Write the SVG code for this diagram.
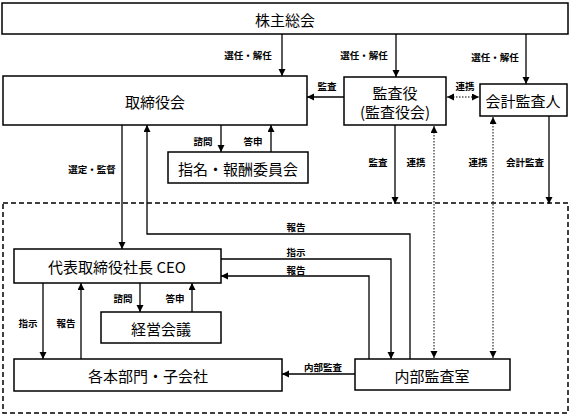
<svg xmlns="http://www.w3.org/2000/svg" width="572" height="416" viewBox="0 0 572 416">
<defs>
<marker id="ah" markerUnits="userSpaceOnUse" markerWidth="8" markerHeight="8" refX="7" refY="3.5" orient="auto-start-reverse">
<path d="M0,0 L7,3.5 L0,7 z" fill="#000"/>
</marker>
<style>
.box{fill:#fff;stroke:#000;stroke-width:1.5}
.t{font-family:"Noto Sans CJK JP","Noto Sans CJK SC",sans-serif;font-size:15px;fill:#000;text-anchor:middle;dominant-baseline:central}
.l{font-family:"Noto Sans CJK JP","Noto Sans CJK SC",sans-serif;font-size:9.5px;font-weight:bold;fill:#000;text-anchor:middle;dominant-baseline:central}
.c{fill:none;stroke:#000;stroke-width:1.3;marker-end:url(#ah)}
.d{fill:none;stroke:#000;stroke-width:1;stroke-dasharray:1.5,1.5;marker-end:url(#ah);marker-start:url(#ah)}
.g{fill:none;stroke:#000;stroke-width:1.5;stroke-dasharray:5,3}
</style>
</defs>
<rect class="g" x="3" y="203" width="565" height="210"/>
<g id="connectors">
<path class="c" d="M282,34 V76"/>
<path class="c" d="M396,34 V77"/>
<path class="c" d="M526,34 V84"/>
<path class="c" d="M344,97 H307"/>
<path class="d" d="M447,97 H479"/>
<path class="c" d="M221,125 V152"/>
<path class="c" d="M271,152 V125"/>
<path class="c" d="M122,125 V249"/>
<path class="c" d="M410,359 V234 H147 V125"/>
<path class="c" d="M221,259 H391 V359"/>
<path class="c" d="M369,359 V276 H221"/>
<path class="c" d="M395,125 V204"/>
<path class="d" d="M434,126 V358"/>
<path class="d" d="M493,117 V358"/>
<path class="c" d="M549,116 V204"/>
<path class="c" d="M140,283 V312"/>
<path class="c" d="M192,312 V283"/>
<path class="c" d="M43,283 V359"/>
<path class="c" d="M81,359 V283"/>
<path class="c" d="M355,374 H282"/>
<text class="l" x="248" y="55">選任・解任</text>
<text class="l" x="364" y="55">選任・解任</text>
<text class="l" x="495" y="57">選任・解任</text>
<text class="l" x="327" y="86">監査</text>
<text class="l" x="465" y="86">連携</text>
<text class="l" x="203" y="141">諮問</text>
<text class="l" x="253" y="141">答申</text>
<text class="l" x="92" y="169">選定・監督</text>
<text class="l" x="378" y="162">監査</text>
<text class="l" x="416" y="162">連携</text>
<text class="l" x="478" y="162">連携</text>
<text class="l" x="525" y="162">会計監査</text>
<text class="l" x="296" y="227">報告</text>
<text class="l" x="296" y="252">指示</text>
<text class="l" x="296" y="270">報告</text>
<text class="l" x="123" y="298">諮問</text>
<text class="l" x="175" y="298">答申</text>
<text class="l" x="28" y="323">指示</text>
<text class="l" x="66" y="323">報告</text>
<text class="l" x="323" y="367">内部監査</text>
</g>
<g id="shareholders"><rect class="box" x="2" y="3" width="566" height="31"/><text class="t" x="285" y="19">株主総会</text></g>
<g id="board"><rect class="box" x="3" y="76" width="304" height="49"/><text class="t" x="155" y="101">取締役会</text></g>
<g id="auditors"><rect class="box" x="344" y="77" width="102" height="48"/><text class="t" x="395" y="92">監査役</text><text class="t" x="395" y="111">(監査役会)</text></g>
<g id="accounting-auditor"><rect class="box" x="480" y="84" width="87" height="32"/><text class="t" x="523" y="100">会計監査人</text></g>
<g id="committee"><rect class="box" x="168" y="152" width="140" height="31"/><text class="t" x="238" y="168">指名・報酬委員会</text></g>
<g id="ceo"><rect class="box" x="14" y="249" width="207" height="34"/><text class="t" x="117" y="266">代表取締役社長 CEO</text></g>
<g id="management-meeting"><rect class="box" x="101" y="312" width="120" height="31"/><text class="t" x="161" y="328">経営会議</text></g>
<g id="divisions"><rect class="box" x="14" y="359" width="268" height="32"/><text class="t" x="148" y="375">各本部門・子会社</text></g>
<g id="internal-audit"><rect class="box" x="355" y="359" width="155" height="31"/><text class="t" x="432" y="375">内部監査室</text></g>
</svg>
